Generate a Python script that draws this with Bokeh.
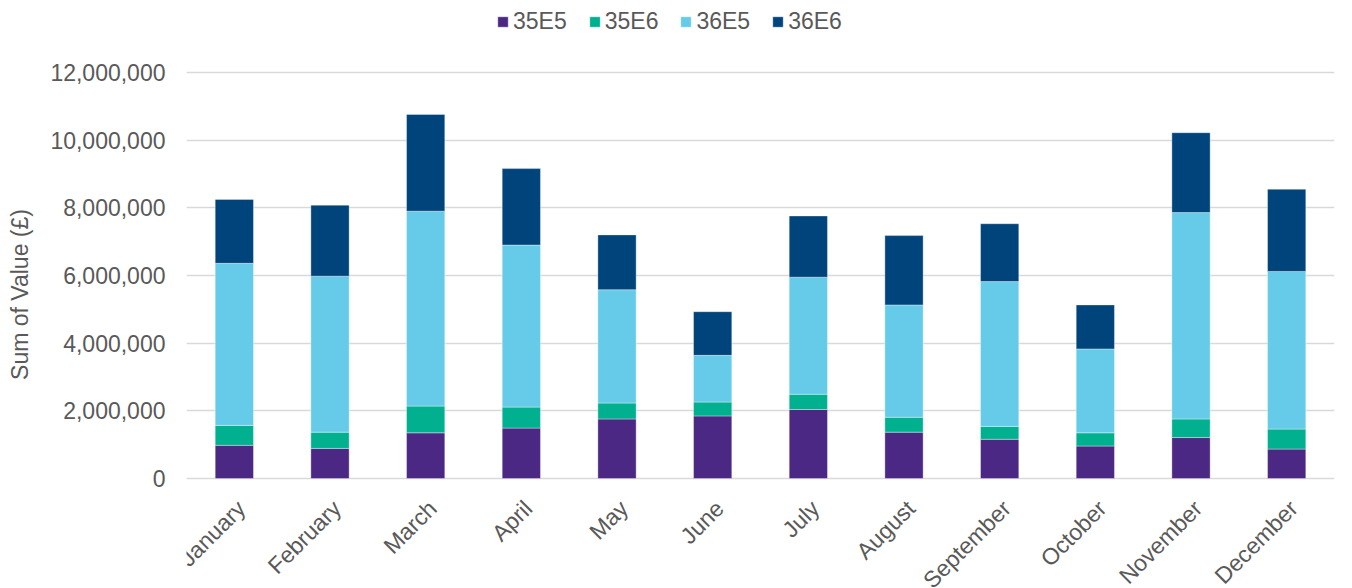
import math
from bokeh.plotting import figure
from bokeh.models import (ColumnDataSource, Range1d, FactorRange, NumeralTickFormatter,
                          Legend, LegendItem, FixedTicker, LabelSet)
from bokeh.core.properties import value
from bokeh.embed import file_html
from bokeh.resources import INLINE

months = ["January", "February", "March", "April", "May", "June", "July",
          "August", "September", "October", "November", "December"]
series = ["35E5", "35E6", "36E5", "36E6"]
v35E5 = [980000, 890000, 1350000, 1490000, 1760000, 1850000, 2040000, 1370000, 1160000, 960000, 1210000, 870000]
v35E6 = [590000, 480000, 790000, 620000, 470000, 410000, 450000, 440000, 380000, 390000, 550000, 590000]
v36E5 = [4790000, 4610000, 5760000, 4790000, 3350000, 1380000, 3460000, 3320000, 4280000, 2480000, 6100000, 4660000]
v36E6 = [1890000, 2100000, 2860000, 2260000, 1620000, 1290000, 1810000, 2050000, 1710000, 1300000, 2360000, 2430000]
y_ticks = [0, 2000000, 4000000, 6000000, 8000000, 10000000, 12000000]
colors = ["#4B2884", "#00B08F", "#65CBE8", "#00447C"]

FONT = "Liberation Sans"
TXT = "#595959"

# layout (pixels): canvas size, where the 12M and 0 gridlines sit
W = 1352
H = 588
TOP_PX = 72
ZERO_PX = 478
ymax = y_ticks[-1]
per_px = ymax / (ZERO_PX - TOP_PX)
y_start = -(H - ZERO_PX) * per_px
y_end = ymax + TOP_PX * per_px

src = ColumnDataSource(dict(month=months, **{"35E5": v35E5, "35E6": v35E6, "36E5": v36E5, "36E6": v36E6}))

p = figure(x_range=FactorRange(*months), y_range=Range1d(y_start, y_end),
           width=W, height=H, output_backend="svg", toolbar_location=None,
           x_axis_location=None,
           min_border_left=186, min_border_right=18, min_border_top=0, min_border_bottom=0)
p.x_range.range_padding = 0

rs = p.vbar_stack(series, x="month", width=0.4, color=colors, source=src,
                  line_color="white", line_width=0.6, line_alpha=0.6)

p.outline_line_color = None
p.background_fill_color = "white"
p.border_fill_color = "white"
p.xgrid.grid_line_color = None
p.ygrid.grid_line_color = "#D9D9D9"
p.ygrid.grid_line_width = 1.5
p.ygrid.level = "underlay"

p.yaxis.ticker = FixedTicker(ticks=y_ticks)
p.yaxis.formatter = NumeralTickFormatter(format="0,0")
p.yaxis.axis_line_color = None
p.yaxis.major_tick_line_color = None
p.yaxis.minor_tick_line_color = None
p.yaxis.major_tick_out = 0
p.yaxis.major_tick_in = 0
p.yaxis.major_label_standoff = 21
p.yaxis.axis_label = "Sum of Value (£)"
p.yaxis.axis_label_standoff = 14
p.yaxis.axis_label_text_font_style = "normal"
p.yaxis.axis_label_text_font = FONT
p.yaxis.axis_label_text_font_size = "23px"
p.yaxis.axis_label_text_color = TXT
p.yaxis.major_label_text_font = FONT
p.yaxis.major_label_text_font_size = "23px"
p.yaxis.major_label_text_color = TXT

xlabels = LabelSet(x="month", y=0, text="month", source=src,
                   x_offset=7, y_offset=-26,
                   angle=math.pi / 4, text_align="right", text_baseline="middle",
                   text_font=value(FONT), text_font_size=value("23px"), text_color=TXT)
p.add_layout(xlabels)

legend = Legend(items=[LegendItem(label=s, renderers=[r]) for s, r in zip(series, rs)],
                orientation="horizontal", location=(310, H - 35),
                label_text_font=FONT, label_text_font_size="23px", label_text_color=TXT,
                glyph_width=13, glyph_height=13, label_standoff=4, spacing=21,
                label_height=23, padding=0, margin=0,
                border_line_color=None, background_fill_alpha=0)
p.add_layout(legend, "center")

open("out.html", "w").write(file_html(p, INLINE))
